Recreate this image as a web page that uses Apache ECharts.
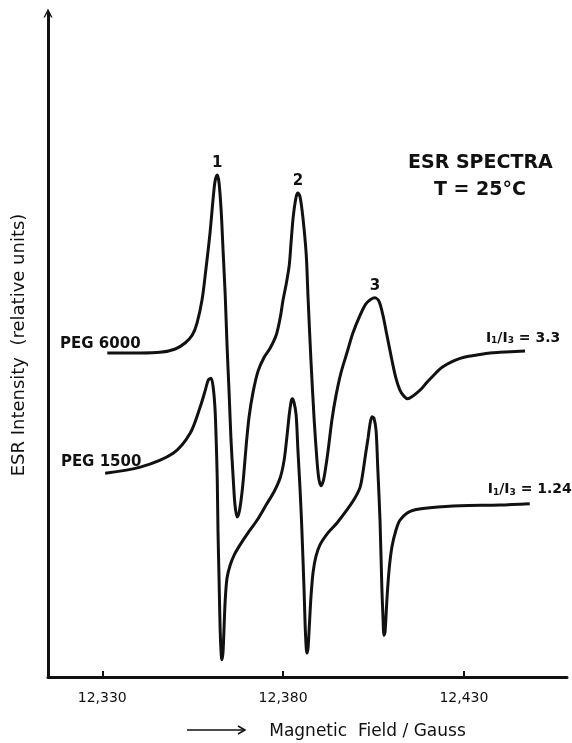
<!DOCTYPE html>
<html>
<head>
<meta charset="utf-8">
<script src="https://cdn.jsdelivr.net/npm/echarts@6/dist/echarts.min.js"></script>
<style>
  html, body { margin: 0; padding: 0; background: #fff; }
  #main { width: 572px; height: 743px; }
</style>
</head>
<body>
<div id="main"></div>
<script>
// field in Gauss, intensity in relative units
const peg6000Field = [12331.4, 12340.5, 12346.0, 12350.2, 12352.9, 12354.9, 12356.2, 12357.6, 12358.7, 12359.8,
  12360.7, 12361.2, 12361.8, 12362.3, 12362.9, 12363.4, 12364.0, 12364.5, 12365.1, 12365.6,
  12366.2, 12366.7, 12367.3, 12367.8, 12368.4, 12369.0, 12369.8, 12370.6, 12371.7, 12373.1,
  12374.8, 12376.4, 12378.1, 12379.2, 12380.0, 12380.8, 12381.7, 12382.2, 12382.8, 12383.6,
  12384.1, 12384.7, 12385.5, 12386.4, 12386.9, 12387.7, 12388.6, 12389.4, 12389.9, 12390.5,
  12391.1, 12391.6, 12392.4, 12393.5, 12394.6, 12396.0, 12397.7, 12399.3, 12401.3, 12402.9,
  12404.3, 12405.4, 12406.5, 12407.6, 12408.7, 12410.1, 12411.2, 12412.3, 12413.4, 12414.5,
  12415.6, 12417.0, 12418.4, 12419.8, 12421.4, 12423.4, 12425.3, 12427.5, 12430.3, 12433.6,
  12437.2, 12439.9, 12446.9];
const peg6000Signal = [48.8, 48.8, 48.9, 49.4, 50.3, 51.5, 53.3, 56.8, 61.6, 66.9,
  72.3, 74.7, 75.6, 74.4, 70.0, 64.3, 57.5, 50.0, 42.5, 35.7,
  30.0, 25.9, 24.1, 24.7, 26.7, 29.7, 34.9, 39.2, 42.9, 46.1,
  48.2, 49.5, 51.5, 54.1, 56.8, 59.0, 62.0, 65.4, 69.3, 72.3,
  72.9, 72.3, 69.1, 63.6, 57.2, 47.7, 38.7, 32.4, 29.8, 28.8,
  29.5, 30.9, 33.9, 38.7, 42.3, 45.8, 48.9, 51.8, 54.5, 56.2,
  56.9, 57.1, 56.6, 54.5, 51.5, 47.7, 45.0, 43.2, 42.3, 41.9,
  42.2, 42.8, 43.5, 44.4, 45.3, 46.4, 47.1, 47.7, 48.2, 48.5,
  48.8, 48.9, 49.1];

const peg1500Field = [12330.8, 12340.5, 12349.6, 12354.3, 12357.1, 12358.5, 12359.3, 12360.1, 12360.7, 12361.2,
  12361.5, 12361.8, 12362.0, 12362.3, 12362.6, 12362.9, 12363.1, 12363.4, 12363.7, 12364.0,
  12364.5, 12365.4, 12366.5, 12368.1, 12370.3, 12372.8, 12375.3, 12377.5, 12379.2, 12380.3,
  12381.1, 12381.7, 12382.2, 12382.5, 12383.0, 12383.6, 12384.1, 12384.7, 12385.2, 12385.8,
  12386.1, 12386.4, 12386.6, 12386.9, 12387.2, 12387.7, 12388.3, 12389.1, 12390.2, 12392.4,
  12394.9, 12397.7, 12399.9, 12401.3, 12402.1, 12402.9, 12403.5, 12404.0, 12404.6, 12405.1,
  12405.7, 12406.2, 12406.8, 12407.3, 12407.6, 12407.9, 12408.2, 12408.7, 12409.3, 12410.1,
  12411.2, 12412.3, 12414.3, 12416.5, 12420.6, 12428.9, 12439.9, 12448.2];
const peg1500Signal = [30.7, 31.6, 33.7, 36.7, 40.7, 43.2, 44.7, 45.0, 43.5, 40.2,
  35.7, 29.7, 22.1, 14.6, 7.1, 3.3, 2.6, 3.8, 7.8, 11.6,
  14.9, 16.9, 18.4, 19.9, 21.7, 23.6, 25.9, 27.9, 30.0, 32.7,
  36.4, 39.5, 41.4, 41.9, 41.4, 39.5, 34.2, 28.2, 22.1, 13.1,
  7.8, 4.4, 3.6, 4.4, 7.1, 12.0, 15.8, 18.2, 19.9, 21.7,
  23.2, 25.2, 27.0, 28.6, 30.9, 33.9, 36.0, 38.0, 39.2, 39.0,
  37.2, 31.2, 23.6, 13.6, 9.3, 6.3, 6.8, 11.6, 16.1, 19.6,
  22.1, 23.6, 24.7, 25.2, 25.5, 25.8, 25.9, 26.1];

const fieldTicks = [12330, 12380, 12430];
const peakNames = ['1', '2', '3'];
const sampleNames = ['PEG 6000', 'PEG 1500'];
const ratioValues = ['3.3', '1.24'];

const chartDom = document.getElementById('main');
const myChart = echarts.init(chartDom);

const zip = (xs, ys) => xs.map((x, i) => [x, ys[i]]);
const peg6000 = zip(peg6000Field, peg6000Signal);
const peg1500 = zip(peg1500Field, peg1500Signal);

// local maxima of the upper trace get the numbers 1, 2, 3
const peaks = [];
peg6000.forEach((p, i) => {
    if (i > 0 && i < peg6000.length - 1 && p[1] > 55 &&
        p[1] >= peg6000[i - 1][1] && p[1] > peg6000[i + 1][1]) {
        peaks.push(p);
    }
});

const font = 'DejaVu Sans';
const boldLabel = { color: '#111', fontFamily: font, fontWeight: 'bold', fontSize: 15 };
const ratioRich = {
    b: { color: '#111', fontFamily: font, fontWeight: 'bold', fontSize: 14 },
    s: { color: '#111', fontFamily: font, fontWeight: 'bold', fontSize: 9, verticalAlign: 'bottom', padding: [6, 0, 0, 0] }
};

function sideLabels(data, name, ratio, nameOffset, ratioOffset) {
    const first = data[0];
    const last = data[data.length - 1];
    return [
        {
            coord: first, value: name,
            label: { show: true, position: 'inside', offset: nameOffset, formatter: name, ...boldLabel }
        },
        {
            coord: last, value: ratio,
            label: {
                show: true, position: 'inside', offset: ratioOffset,
                formatter: '{b|I}{s|1}{b|/I}{s|3}{b| = ' + ratio + '}', rich: ratioRich
            }
        }
    ];
}

const option = {
    animation: false,
    backgroundColor: '#fff',
    grid: { left: 48, right: 5, top: 13, bottom: 66, outerBoundsMode: 'none' },
    xAxis: {
        type: 'value',
        min: 12315,
        max: 12458.5,
        name: 'Magnetic  Field / Gauss',
        nameLocation: 'middle',
        nameGap: 46,
        nameTextStyle: { color: '#111', fontFamily: font, fontSize: 17, padding: [0, 0, 0, 120] },
        axisLine: { lineStyle: { color: '#111', width: 3 } },
        axisTick: { show: true, inside: true, length: 6, customValues: fieldTicks, lineStyle: { color: '#111', width: 2 } },
        axisLabel: {
            customValues: fieldTicks,
            margin: 14,
            color: '#111',
            fontFamily: font,
            fontSize: 14,
            formatter: v => Math.floor(v / 1000) + ',' + String(v % 1000).padStart(3, '0')
        },
        splitLine: { show: false }
    },
    yAxis: {
        type: 'value',
        min: 0,
        max: 100,
        name: 'ESR Intensity  (relative units)',
        nameLocation: 'middle',
        nameGap: 20,
        nameTextStyle: { color: '#111', fontFamily: font, fontSize: 18 },
        axisLine: {
            show: true,
            symbol: ['none', 'path://M0,10 L5,0 L10,10 L8.4,10 L5,3.2 L1.6,10 Z'],
            symbolSize: [11, 9],
            lineStyle: { color: '#111', width: 3 }
        },
        axisTick: { show: false },
        axisLabel: { show: false },
        splitLine: { show: false }
    },
    graphic: [
        {
            type: 'text', left: 408, top: 154,
            style: { text: 'ESR SPECTRA', fill: '#111', font: 'bold 19px "DejaVu Sans"' }
        },
        {
            type: 'text', left: 434, top: 181,
            style: { text: 'T = 25°C', fill: '#111', font: 'bold 19px "DejaVu Sans"' }
        },
        // arrow in front of the x-axis title
        {
            type: 'line',
            shape: { x1: 187, y1: 730, x2: 244, y2: 730 },
            style: { stroke: '#111', lineWidth: 1.5 }
        },
        {
            type: 'polyline',
            shape: { points: [[238, 726], [245, 730], [238, 734]] },
            style: { stroke: '#111', lineWidth: 1.5, fill: null }
        }
    ],
    series: [
        {
            name: sampleNames[0],
            type: 'line',
            data: peg6000,
            smooth: 0.3,
            showSymbol: false,
            lineStyle: { color: '#111', width: 3 },
            markPoint: {
                symbol: 'circle',
                symbolSize: 0,
                data: [
                    ...peaks.map((p, i) => ({
                        coord: p, value: peakNames[i],
                        label: { show: true, position: 'top', distance: 4, formatter: peakNames[i], ...boldLabel }
                    })),
                    ...sideLabels(peg6000, sampleNames[0], ratioValues[0], [-7, -9], [-2, -13])
                ]
            }
        },
        {
            name: sampleNames[1],
            type: 'line',
            data: peg1500,
            smooth: 0.3,
            showSymbol: false,
            lineStyle: { color: '#111', width: 3 },
            markPoint: {
                symbol: 'circle',
                symbolSize: 0,
                data: sideLabels(peg1500, sampleNames[1], ratioValues[1], [-4, -11], [0, -14])
            }
        }
    ]
};

myChart.setOption(option);
window.addEventListener('resize', () => {
    myChart.resize();
});
</script>
</body>
</html>
